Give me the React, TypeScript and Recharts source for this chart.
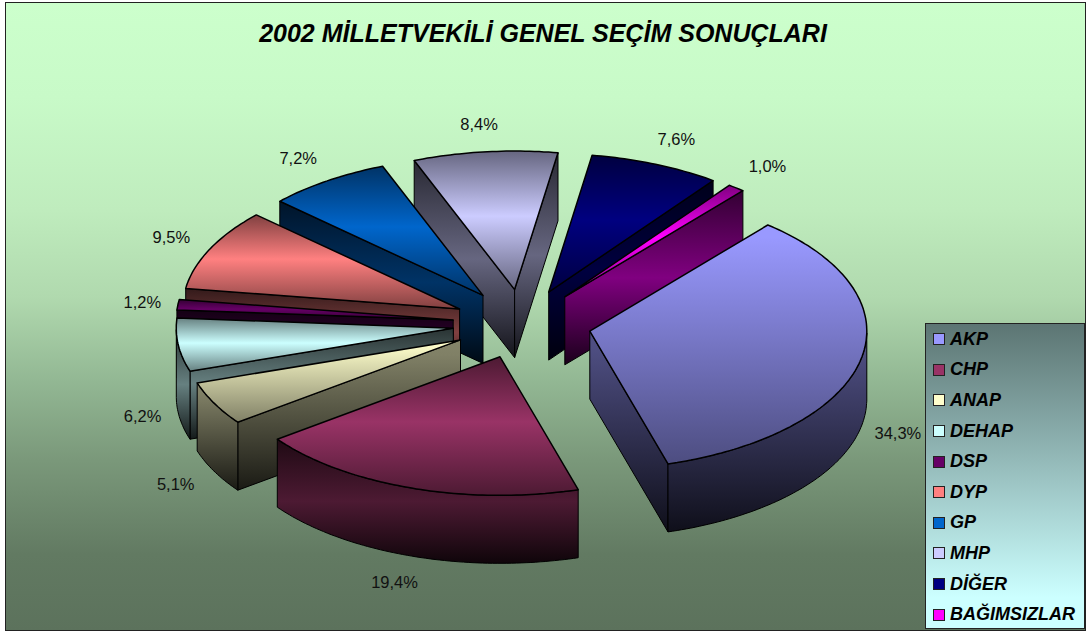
import { Legend, Pie, PieChart } from "recharts";

const PARTIES = ["AKP", "CHP", "ANAP", "DEHAP", "DSP", "DYP", "GP", "MHP", "DİĞER", "BAĞIMSIZLAR"];
const VOTES = [34.3, 19.4, 5.1, 6.2, 1.2, 9.5, 7.2, 8.4, 7.6, 1.0];
const COLORS = ["#9999ff", "#993366", "#ffffcc", "#ccffff", "#660066", "#ff8080", "#0066cc", "#ccccff", "#000080", "#ff00ff"];

// back-to-front, the way the slices overlap each other
const PAINT_ORDER = [7, 8, 6, 9, 5, 4, 3, 2, 0, 1];
// these two fade from the top instead of being brightest in the middle
const FADE_FROM_TOP = ["AKP", "ANAP"];

const TITLE = "2002 MİLLETVEKİLİ GENEL SEÇİM SONUÇLARI";

const CX = 522;
const CY = 324;
const RADIUS = 277;
const SQUASH = 0.5;
const DEPTH = 68;
const EXPLODE = 0.25;

const data = PARTIES.map((name, i) => ({ name, value: VOTES[i], fill: COLORS[i] }));

function shade(hex: string, k: number) {
  const n = parseInt(hex.slice(1), 16);
  const c = [(n >> 16) & 255, (n >> 8) & 255, n & 255].map((v) => Math.round(v * k));
  return `rgb(${c[0]},${c[1]},${c[2]})`;
}

const rad = (a: number) => (a * Math.PI) / 180;

function toPath(points: number[][]) {
  return points.map((p, i) => `${i ? "L" : "M"}${p[0].toFixed(1)} ${p[1].toFixed(1)}`).join("") + "Z";
}

function Slice(props: any) {
  const { cx, cy, outerRadius, startAngle, endAngle, midAngle, fill, name, index } = props;
  const ox = cx + outerRadius * EXPLODE * Math.cos(rad(midAngle));
  const oy = cy - outerRadius * SQUASH * EXPLODE * Math.sin(rad(midAngle));

  const angles: number[] = [];
  const steps = Math.max(2, Math.ceil(Math.abs(endAngle - startAngle)));
  for (let s = 0; s <= steps; s++) angles.push(startAngle + ((endAngle - startAngle) * s) / steps);
  const rim = (a: number) => [ox + outerRadius * Math.cos(rad(a)), oy - outerRadius * SQUASH * Math.sin(rad(a))];
  const arc = angles.map(rim);
  const apex = [ox, oy];
  const down = (p: number[]) => [p[0], p[1] + DEPTH];

  const first = arc[0];
  const last = arc[arc.length - 1];
  const front = angles.filter((a) => Math.sin(rad(a)) <= 0).map(rim);
  const fades = FADE_FROM_TOP.includes(name);

  const topId = `top-${index}`;
  const wallId = `wall-${index}`;
  const walls: number[][][] = [];
  if (first[0] < apex[0]) walls.push([apex, first, down(first), down(apex)]);
  if (apex[0] < last[0]) walls.push([last, apex, down(apex), down(last)]);

  return (
    <g>
      <defs>
        <linearGradient id={topId} x1="0" y1="0" x2="0" y2="1">
          <stop offset="0" stopColor={fades ? fill : shade(fill, 0.5)} />
          <stop offset={fades ? "0.05" : "0.47"} stopColor={fill} />
          <stop offset="1" stopColor={shade(fill, 0.5)} />
        </linearGradient>
        <linearGradient id={wallId} x1="0" y1="0" x2="0" y2="1">
          <stop offset="0" stopColor={shade(fill, fades ? 0.52 : 0.2)} />
          <stop offset={fades ? "0.1" : "0.5"} stopColor={shade(fill, 0.5)} />
          <stop offset="1" stopColor={shade(fill, 0.1)} />
        </linearGradient>
      </defs>
      {walls.map((w, i) => (
        <path key={i} d={toPath(w)} fill={`url(#${wallId})`} stroke="#000" strokeWidth={1} strokeLinejoin="round" />
      ))}
      {front.length > 1 && (
        <path
          d={toPath([...front, ...front.map(down).reverse()])}
          fill={`url(#${wallId})`}
          stroke="#000"
          strokeWidth={1}
          strokeLinejoin="round"
        />
      )}
      <path d={toPath([apex, ...arc])} fill={`url(#${topId})`} stroke="#000" strokeWidth={1.5} strokeLinejoin="round" />
    </g>
  );
}

function percentLabel(props: any) {
  const { cx, cy, outerRadius, midAngle, value } = props;
  const sin = Math.sin(rad(midAngle));
  const x = cx + outerRadius * (1.37 + 0.08 * Math.abs(sin)) * Math.cos(rad(midAngle));
  const y = cy - outerRadius * SQUASH * 1.45 * sin + (sin < 0 ? DEPTH : 0);
  return (
    <text x={x} y={y} textAnchor="middle" dominantBaseline="central" fontSize={16.5} fill="#111">
      {value.toFixed(1).replace(".", ",") + "%"}
    </text>
  );
}

function PartyLegend(props: any) {
  const seen = new Set();
  const items = (props.payload || []).filter((p: any) => {
    if (seen.has(p.value)) return false;
    seen.add(p.value);
    return true;
  });
  return (
    <div
      style={{
        boxSizing: "border-box",
        width: 160,
        height: 306,
        padding: "0 0 0 7px",
        border: "1px solid #222",
        background: "linear-gradient(#5c7573 0%, #ccffff 90%)",
      }}
    >
      {items.map((p: any) => (
        <div key={p.value} style={{ display: "flex", alignItems: "center", height: 30.6 }}>
          <span
            style={{
              boxSizing: "border-box",
              width: 12,
              height: 12,
              marginRight: 5,
              background: p.color,
              border: "1.5px solid #222",
            }}
          />
          <span
            style={{
              fontFamily: "Liberation Sans",
              fontWeight: 700,
              fontStyle: "italic",
              fontSize: 18,
              color: "#000",
            }}
          >
            {p.value}
          </span>
        </div>
      ))}
    </div>
  );
}

export default function App() {
  return (
    <div style={{ position: "absolute", left: 0, top: 0, width: 1086, height: 633, background: "#fff", overflow: "hidden" }}>
      <div
        style={{
          position: "absolute",
          left: 5,
          top: 2,
          width: 1079,
          height: 627,
          border: "1.5px solid #222",
          background: "linear-gradient(#ccffcc 0%, #c8fac8 15%, #bfecbd 33%, #b0d9ae 47%, #93b894 60%, #7a987a 73%, #627a62 88%, #5c725c 100%)",
        }}
      />
      <PieChart
        width={1086}
        height={633}
        margin={{ top: 0, right: 0, bottom: 0, left: 0 }}
        style={{ position: "absolute", left: 0, top: 0, fontFamily: "Liberation Sans" }}
      >
        {PAINT_ORDER.map((slot, n) => (
          <Pie
            key={slot}
            data={data}
            dataKey="value"
            nameKey="name"
            cx={CX}
            cy={CY}
            innerRadius={0}
            outerRadius={RADIUS}
            startAngle={50}
            endAngle={-310}
            isAnimationActive={false}
            stroke="none"
            shape={(p: any) => (p.index === slot ? <Slice {...p} name={PARTIES[p.index]} /> : <g />)}
            label={n === PAINT_ORDER.length - 1 ? percentLabel : false}
            labelLine={false}
          />
        ))}
        <Legend
          layout="vertical"
          align="right"
          verticalAlign="bottom"
          itemSorter={null}
          content={PartyLegend}
          wrapperStyle={{ left: 925, top: 323, right: "auto", bottom: "auto", width: 160, height: 306 }}
        />
        <text
          x={543}
          y={33}
          textAnchor="middle"
          dominantBaseline="central"
          fontSize={25}
          fontWeight={700}
          fontStyle="italic"
          fill="#000"
        >
          {TITLE}
        </text>
      </PieChart>
    </div>
  );
}
